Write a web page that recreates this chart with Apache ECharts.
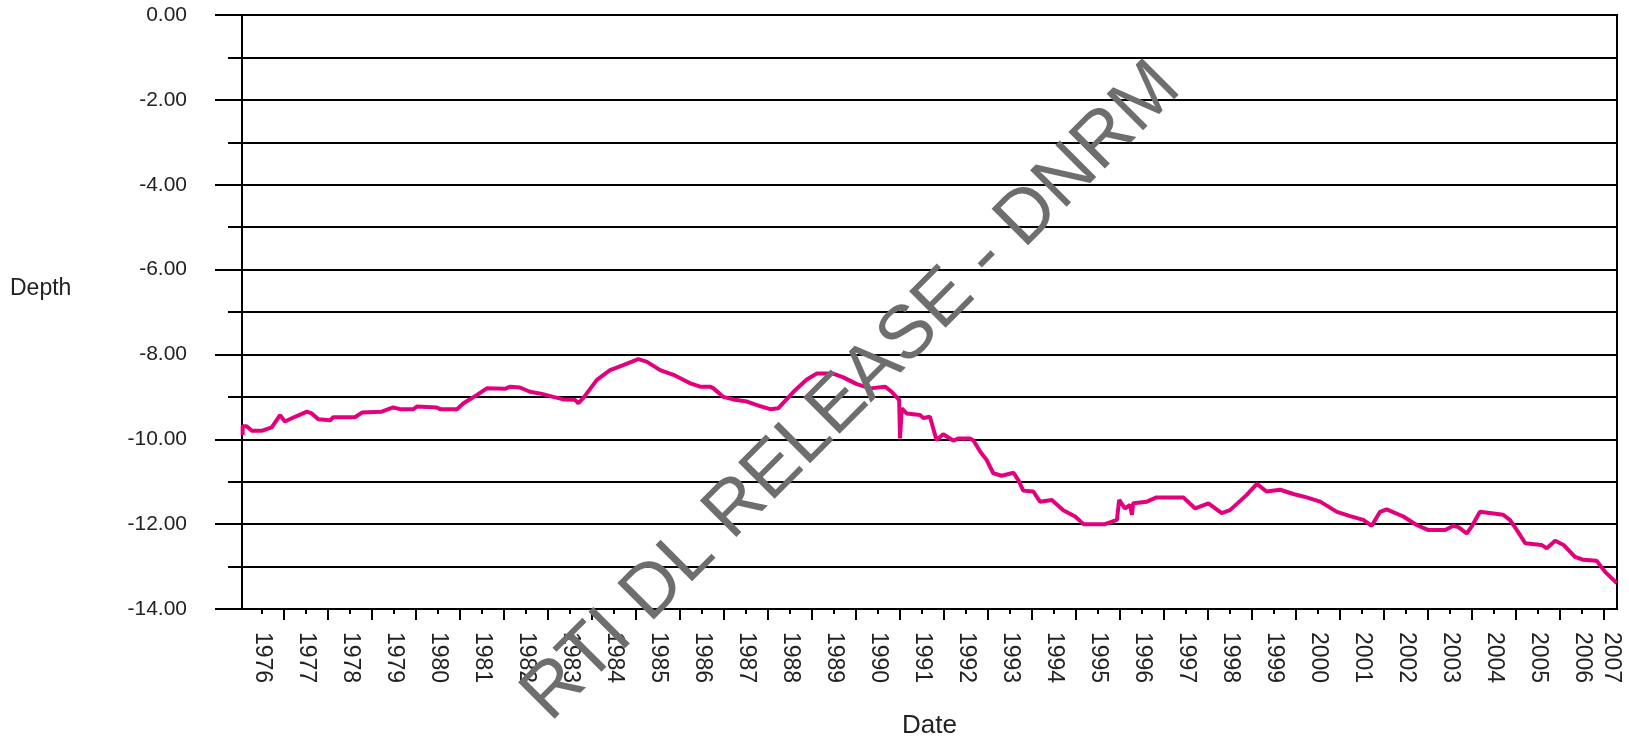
<!DOCTYPE html>
<html>
<head>
<meta charset="utf-8">
<title>Depth</title>
<script src="https://cdn.jsdelivr.net/npm/echarts@6/dist/echarts.min.js"></script>
<style>
    html, body { margin: 0; padding: 0; background: #fff; }
    #chart { width: 1629px; height: 743px; }
</style>
</head>
<body>
<div id="chart"></div>
<script>
// decimal years and depths
var years = [
    1975.56, 1975.56, 1975.65, 1975.77, 1975.99, 1976.22, 1976.41, 1976.52, 1976.75, 1977.02,
    1977.13, 1977.28, 1977.55, 1977.62, 1978.11, 1978.27, 1978.72, 1978.98, 1979.14, 1979.44,
    1979.52, 1979.97, 1980.05, 1980.43, 1980.58, 1980.88, 1981.11, 1981.52, 1981.64, 1981.86,
    1982.09, 1982.36, 1982.62, 1982.85, 1983.11, 1983.19, 1983.30, 1983.61, 1983.91, 1984.21,
    1984.55, 1984.74, 1985.05, 1985.35, 1985.73, 1985.96, 1986.18, 1986.26, 1986.48, 1986.71,
    1987.02, 1987.32, 1987.55, 1987.73, 1988.08, 1988.38, 1988.61, 1988.98, 1989.21, 1989.52,
    1989.82, 1990.16, 1990.31, 1990.48, 1990.50, 1990.54, 1990.65, 1990.96, 1991.03, 1991.18,
    1991.33, 1991.48, 1991.71, 1991.83, 1992.09, 1992.17, 1992.32, 1992.47, 1992.62, 1992.81,
    1993.08, 1993.19, 1993.30, 1993.53, 1993.68, 1993.95, 1994.21, 1994.48, 1994.67, 1995.16,
    1995.43, 1995.48, 1995.61, 1995.73, 1995.77, 1995.80, 1996.11, 1996.33, 1996.94, 1997.21,
    1997.51, 1997.81, 1998.00, 1998.38, 1998.61, 1998.83, 1999.14, 1999.44, 1999.74, 2000.05,
    2000.43, 2000.73, 2001.03, 2001.22, 2001.41, 2001.56, 2001.94, 2002.24, 2002.51, 2002.89,
    2003.08, 2003.19, 2003.38, 2003.49, 2003.68, 2004.21, 2004.36, 2004.52, 2004.71, 2005.08,
    2005.20, 2005.39, 2005.58, 2005.84, 2006.03, 2006.33, 2006.52, 2006.79
];
var depths = [
    -9.90, -9.69, -9.69, -9.80, -9.80, -9.72, -9.43, -9.58, -9.47, -9.35,
    -9.39, -9.53, -9.55, -9.48, -9.48, -9.37, -9.35, -9.25, -9.29, -9.29,
    -9.23, -9.25, -9.29, -9.29, -9.15, -8.96, -8.80, -8.81, -8.76, -8.78,
    -8.88, -8.93, -9.00, -9.06, -9.07, -9.15, -9.03, -8.60, -8.37, -8.25,
    -8.11, -8.17, -8.37, -8.48, -8.68, -8.76, -8.76, -8.80, -9.00, -9.06,
    -9.11, -9.22, -9.29, -9.27, -8.88, -8.59, -8.45, -8.45, -8.54, -8.70,
    -8.80, -8.76, -8.88, -9.07, -9.98, -9.27, -9.39, -9.43, -9.50, -9.47,
    -10.02, -9.88, -10.03, -9.98, -9.98, -10.03, -10.29, -10.49, -10.80, -10.86,
    -10.79, -10.96, -11.21, -11.23, -11.47, -11.43, -11.67, -11.82, -12.00, -12.00,
    -11.90, -11.43, -11.63, -11.55, -11.78, -11.51, -11.47, -11.37, -11.37, -11.63,
    -11.51, -11.74, -11.67, -11.31, -11.05, -11.23, -11.19, -11.29, -11.37, -11.47,
    -11.71, -11.81, -11.90, -12.04, -11.71, -11.65, -11.82, -12.02, -12.14, -12.14,
    -12.04, -12.07, -12.22, -12.06, -11.71, -11.78, -11.90, -12.14, -12.45, -12.49,
    -12.57, -12.39, -12.49, -12.77, -12.84, -12.86, -13.12, -13.39
];
var yearTicks = [1976, 1977, 1978, 1979, 1980, 1981, 1982, 1983, 1984, 1985, 1986,
    1987, 1988, 1989, 1990, 1991, 1992, 1993, 1994, 1995, 1996, 1997, 1998, 1999,
    2000, 2001, 2002, 2003, 2004, 2005, 2006];
var halfYearTicks = yearTicks.map(function (y) { return y + 0.5; });
// last label (2007) is squeezed in before the right edge
var yearLabels = yearTicks.concat([2006.66]);

var xMin = 1975.545;
var xMax = 2006.795;

var chart = echarts.init(document.getElementById('chart'));

var line = { color: '#000', width: 2 };
var labelFont = 'Liberation Sans, Arial, sans-serif';

var option = {
    animation: false,
    backgroundColor: '#fff',
    grid: {
        left: 242, right: 12, top: 15, bottom: 134,
        show: true,
        borderColor: '#000',
        borderWidth: 2,
        containLabel: false,
        outerBoundsMode: 'none'
    },
    xAxis: [{
        type: 'value',
        min: xMin,
        max: xMax,
        name: 'Date',
        nameLocation: 'middle',
        nameGap: 104,
        nameTextStyle: { fontFamily: labelFont, fontSize: 26, color: '#222' },
        axisLine: { onZero: false, lineStyle: line },
        axisTick: { show: true, length: 5, lineStyle: line, customValues: yearTicks },
        axisLabel: {
            customValues: yearLabels,
            rotate: -90,
            margin: 23,
            fontFamily: labelFont,
            fontSize: 23,
            color: '#222',
            formatter: function (v) { return String(Math.round(v)); }
        },
        splitLine: { show: false }
    }, {
        type: 'value',
        min: xMin,
        max: xMax,
        position: 'bottom',
        axisLine: { show: false, onZero: false },
        axisTick: { show: true, length: 11, lineStyle: line, customValues: halfYearTicks },
        axisLabel: { show: false },
        splitLine: { show: false }
    }],
    yAxis: {
        type: 'value',
        min: -14,
        max: 0,
        interval: 2,
        axisLine: { show: true, onZero: false, lineStyle: line },
        axisTick: { show: true, length: 27, lineStyle: line },
        minorTick: { show: true, splitNumber: 2, length: 14, lineStyle: line },
        splitLine: { show: true, lineStyle: line },
        minorSplitLine: { show: true, lineStyle: line },
        axisLabel: {
            margin: 55,
            fontFamily: labelFont,
            fontSize: 21,
            color: '#222',
            formatter: function (v) { return v.toFixed(2); }
        }
    },
    graphic: [{
        type: 'text',
        left: 10,
        top: 277,
        style: { text: 'Depth', font: '23px Liberation Sans, Arial, sans-serif', fill: '#222' }
    }, {
        type: 'text',
        x: 852,
        y: 392,
        rotation: Math.PI / 4,
        z: 100,
        style: {
            text: 'RTI DL RELEASE - DNRM',
            font: '75px Liberation Sans, Arial, sans-serif',
            fill: '#6e6e6e',
            align: 'center',
            verticalAlign: 'middle'
        }
    }],
    series: [{
        type: 'line',
        xAxisIndex: 0,
        showSymbol: false,
        data: years.map(function (y, i) { return [y, depths[i]]; }),
        lineStyle: { color: '#E3007D', width: 4 },
        z: 5
    }]
};

chart.setOption(option);
</script>
</body>
</html>
